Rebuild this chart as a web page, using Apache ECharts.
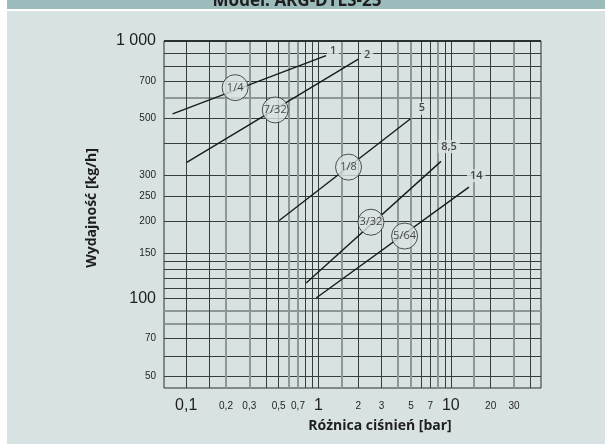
<!DOCTYPE html>
<html><head><meta charset="utf-8">
<script src="https://cdn.jsdelivr.net/npm/echarts@6/dist/echarts.min.js"></script>
<style>html,body{margin:0;padding:0;background:#fff}#c{width:605px;height:444px}</style>
</head><body><div id="c"></div>
<script>
// Axis tick / grid values
const xLabelValues = [0.1, 0.2, 0.3, 0.5, 0.7, 1, 2, 3, 5, 7, 10, 20, 30];
const xGridDark = [0.1, 0.15, 0.4, 0.5, 0.8, 0.9, 1, 2, 3, 6, 7, 9, 10, 20, 40];
const xGridGrey = [0.2, 0.3, 0.6, 0.7, 1.5, 4, 5, 8, 15, 30];
const yLabelValues = [50, 70, 100, 150, 200, 250, 300, 500, 700, 1000];
const yGridDark = [50, 60, 70, 100, 110, 120, 130, 140, 150, 200, 250, 300, 400, 500, 700, 800, 900, 1000];
const yGridGrey = [80, 90, 600];
const bigLabels = [0.1, 1, 10, 100, 1000];

// Curves: [pressure bar, flow kg/h]
const curve_1_4 = [[0.079, 521], [1.14, 877]];
const curve_7_32 = [[0.101, 338], [2.0, 851]];
const curve_1_8 = [[0.505, 201], [4.96, 499]];
const curve_3_32 = [[0.807, 115], [8.42, 341]];
const curve_5_64 = [[0.96, 100.6], [13.7, 271]];

// Labels at the end of each curve
const endLabelNames = ['1', '2', '5', '8,5', '14'];
const endLabelPos = [[1.29, 916], [2.33, 883], [6.05, 548], [9.68, 389], [15.56, 300]];
// Circle (nozzle size) labels
const circleNames = ['1/4', '7/32', '1/8', '3/32', '5/64'];
const circlePos = [[0.2345, 659], [0.471, 540], [1.686, 324], [2.49, 198], [4.47, 175]];

const BG = '#d9e2e3';
const DARK = '#373c3d';
const GREY = '#8d9797';
const TXT = '#1e1e1e';

function fmt(v) {
  v = +(+v).toPrecision(6);
  let s = v >= 1000 ? '1 000' : String(v).replace('.', ',');
  return bigLabels.indexOf(v) >= 0 ? '{b|' + s + '}' : '{s|' + s + '}';
}
const rich = {
  b: { fontSize: 16, fontFamily: 'Liberation Sans', color: TXT, lineHeight: 18 },
  s: { fontSize: 10, fontFamily: 'Liberation Sans', color: TXT, lineHeight: 18 }
};

const xMin = 0.068, xMax = 48, yMin = 45, yMax = 1000;

function xAxisDef(main) {
  return {
    type: 'log', logBase: 10, min: xMin, max: xMax, position: 'bottom',
    axisLine: { show: false },
    axisTick: { show: false, customValues: main ? xGridDark : xGridGrey },
    axisLabel: main ? { show: true, customValues: xLabelValues, formatter: fmt, rich: rich, margin: 9 } : { show: false },
    splitLine: { show: true, lineStyle: { color: main ? DARK : GREY, width: main ? 1 : 2 } },
    minorSplitLine: { show: false }
  };
}
function yAxisDef(main) {
  return {
    type: 'log', logBase: 10, min: yMin, max: yMax, position: 'left',
    axisLine: { show: false },
    axisTick: { show: false, customValues: main ? yGridDark : yGridGrey },
    axisLabel: main ? { show: true, customValues: yLabelValues, formatter: fmt, rich: rich, margin: 8 } : { show: false },
    splitLine: { show: true, lineStyle: { color: main ? DARK : GREY, width: main ? 1 : 2 } },
    minorSplitLine: { show: false }
  };
}

const curves = [curve_1_4, curve_7_32, curve_1_8, curve_3_32, curve_5_64];
const series = curves.map(c => ({
  type: 'line', data: c, symbol: 'none', silent: true,
  lineStyle: { color: '#1a1a1a', width: 1.4 }, z: 3
}));
series.push({
  type: 'scatter', data: endLabelPos.map((p, i) => ({ value: p, name: endLabelNames[i] })),
  symbolSize: 0, z: 4,
  label: {
    show: true, position: 'inside', formatter: '{b}', color: TXT,
    fontFamily: 'Open Sans', fontSize: 11, fontWeight: 600,
    backgroundColor: BG, padding: [1, 3]
  }
});
series.push({
  type: 'scatter', data: circlePos.map((p, i) => ({ value: p, name: circleNames[i] })),
  symbol: 'circle', symbolSize: 26, z: 5,
  itemStyle: { color: BG, borderColor: '#2a2a2a', borderWidth: 1 },
  label: { show: true, position: 'inside', formatter: '{b}', color: TXT, fontFamily: 'Open Sans', fontSize: 11, fontWeight: 500 }
});

const chart = echarts.init(document.getElementById('c'), null, { renderer: 'canvas' });
chart.setOption({
  animation: false,
  backgroundColor: '#ffffff',
  graphic: [
    { type: 'rect', shape: { x: 7, y: 0, width: 598, height: 9 }, style: { fill: '#9bbcbb' }, z: -10 },
    { type: 'text', x: 297, y: 10, z: -9, style: { text: 'Model: ARG-DTLS-25', fill: '#1e1e1e', font: 'bold 17px "Open Sans"', align: 'center', verticalAlign: 'bottom', textAlign: 'center', textVerticalAlign: 'bottom' } },
    { type: 'rect', shape: { x: 7, y: 9, width: 598, height: 2 }, style: { fill: '#ffffff' }, z: -8 },
    { type: 'rect', shape: { x: 7, y: 11, width: 598, height: 433 }, style: { fill: BG }, z: -8 },
    { type: 'rect', shape: { x: 0, y: 0, width: 7, height: 444 }, style: { fill: '#ffffff' }, z: -7 },
    { type: 'line', shape: { x1: 164, y1: 41, x2: 541, y2: 41 }, style: { stroke: '#2a2f30', lineWidth: 2 }, z: 20 },
    { type: 'text', x: 92, y: 208, rotation: Math.PI / 2, z: 10, style: { text: 'Wydajność [kg/h]', fill: TXT, font: 'bold 14px "Open Sans"', align: 'center', verticalAlign: 'middle', textAlign: 'center', textVerticalAlign: 'middle' } },
    { type: 'text', x: 380, y: 426, z: 10, style: { text: 'Różnica ciśnień [bar]', fill: TXT, font: 'bold 14px "Open Sans"', align: 'center', verticalAlign: 'middle', textAlign: 'center', textVerticalAlign: 'middle' } }
  ],
  grid: { left: 164, right: 64, top: 41, bottom: 56, show: true, borderColor: '#2a2f30', borderWidth: 1, backgroundColor: 'transparent' },
  xAxis: [xAxisDef(false), xAxisDef(true)],
  yAxis: [yAxisDef(false), yAxisDef(true)],
  series: series.map(s => Object.assign({}, s, { xAxisIndex: 1, yAxisIndex: 1 }))
});
</script></body></html>
